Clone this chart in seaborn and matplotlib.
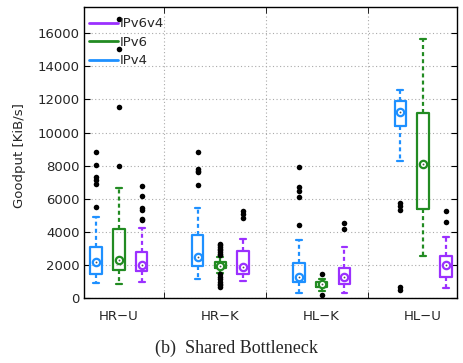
import numpy as np
import pandas as pd
import matplotlib
matplotlib.use("Agg")
import matplotlib.pyplot as plt
import seaborn as sns
from matplotlib.lines import Line2D

# ---------------- data ----------------
groups = ["HR\u2212U", "HR\u2212K", "HL\u2212K", "HL\u2212U"]
protocols = ["IPv4", "IPv6", "IPv6v4"]
colors = {"IPv4": "#1E90FF", "IPv6": "#228B22", "IPv6v4": "#9B30FF"}

# five-number summary per scenario: whisker low, Q1, median, Q3, whisker high
ipv4_box = [[940, 1465, 2210, 3075, 4890],
            [1165, 1970, 2490, 3800, 5470],
            [340, 1000, 1285, 2110, 3515],
            [8300, 10390, 11250, 11900, 12560]]
ipv6_box = [[845, 1730, 2310, 4180, 6670],
            [1550, 1810, 1965, 2210, 2500],
            [450, 700, 845, 1000, 1200],
            [2570, 5380, 8080, 11190, 15620]]
ipv6v4_box = [[965, 1670, 2010, 2810, 4220],
              [1060, 1465, 1870, 2870, 3580],
              [340, 900, 1300, 1850, 3075],
              [660, 1300, 2010, 2550, 3680]]

# outliers per scenario
ipv4_out = [[8840, 8040, 7330, 7130, 6930, 5490],
            [8820, 7820, 7680, 7620, 6810],
            [7900, 6690, 6490, 6130, 4440],
            [5765, 5570, 5320, 700, 500]]
ipv6_out = [[16840, 15010, 11550, 8000],
            [3300, 3200, 3100, 3000, 2900, 2800, 2700, 2600,
             1450, 1300, 1150, 1000, 900, 800, 700],
            [1465, 220],
            []]
ipv6v4_out = [[6790, 6190, 5430, 5320, 4800, 4720],
              [5260, 5120, 4880],
              [4520, 4160],
              [5245, 4600]]

# ---------------- tables ----------------
box_rows, med_rows, out_rows = [], [], []
for proto, boxes, outs in zip(protocols,
                              [ipv4_box, ipv6_box, ipv6v4_box],
                              [ipv4_out, ipv6_out, ipv6v4_out]):
    for g, vals, ovals in zip(groups, boxes, outs):
        for v in vals:
            box_rows.append((g, proto, v))
        med_rows.append((g, proto, vals[2]))
        for r, v in enumerate(ovals):
            out_rows.append((g, proto, v, r))
box_df = pd.DataFrame(box_rows, columns=["scenario", "protocol", "goodput"])
med_df = pd.DataFrame(med_rows, columns=["scenario", "protocol", "goodput"])
out_df = pd.DataFrame(out_rows, columns=["scenario", "protocol", "goodput", "rank"])

# ---------------- style ----------------
sns.set_style("white")
plt.rcParams["font.family"] = ["DejaVu Sans"]
plt.rcParams["font.size"] = 9.5

fig = plt.figure(figsize=(4.63, 3.63), dpi=100)
ax = fig.add_axes([0.1814, 0.1777, 0.8067, 0.8022])

common = dict(x="scenario", y="goodput", hue="protocol", order=groups,
              hue_order=protocols, ax=ax, legend=False)

sns.boxplot(data=box_df, palette=colors, fill=False, width=0.675, gap=0.5,
            whis=(0, 100), showfliers=False, linewidth=1.6,
            whiskerprops=dict(linestyle=(0, (1.8, 1.4))),
            medianprops=dict(visible=False), **common)

# outliers
black = {p: "black" for p in protocols}
for r in sorted(out_df["rank"].unique()):
    sns.pointplot(data=out_df[out_df["rank"] == r], palette=black, dodge=0.45,
                  markers="o", linestyles="none", errorbar=None,
                  markersize=4, markeredgewidth=0, zorder=5, **common)

# medians: ring + centre dot
sns.pointplot(data=med_df, palette=colors, dodge=0.45, markers="o",
              linestyles="none", errorbar=None, markersize=5.3,
              markerfacecolor="white", markeredgewidth=1.6, zorder=6, **common)
sns.pointplot(data=med_df, palette={p: "#555555" for p in protocols},
              dodge=0.45, markers="o", linestyles="none", errorbar=None,
              markersize=1.3, markeredgewidth=0, zorder=7, **common)

# ---------------- axes ----------------
ax.set_xlim(-0.345, 3.34)
ax.set_ylim(0, 17550)
ax.set_yticks(range(0, 16001, 2000))
ax.set_xticks(range(len(groups)))
ax.set_xticklabels(groups)
ax.set_xticks([0.445, 1.45, 2.46], minor=True)
ax.tick_params(axis="x", which="major", length=0, pad=8, labelsize=9.5)
ax.tick_params(axis="x", which="minor", direction="in", length=4,
               top=True, bottom=True, color="black")
ax.tick_params(axis="y", direction="in", length=4, left=True, right=True,
               pad=3, labelsize=9.5, color="black")
grid_kw = dict(color="#aaaaaa", linestyle=(0, (1, 2.2)), linewidth=0.8)
ax.yaxis.grid(True, which="major", **grid_kw)
ax.xaxis.grid(True, which="minor", **grid_kw)
ax.xaxis.grid(False, which="major")
ax.set_axisbelow(True)
for s in ax.spines.values():
    s.set_color("black")
    s.set_linewidth(1.0)
ax.set_xlabel("")
ax.set_ylabel("Goodput [KiB/s]", fontsize=9.5)
ax.yaxis.set_label_coords(-0.155, 0.49)

handles = [Line2D([], [], color=colors[p], lw=2) for p in protocols[::-1]]
ax.legend(handles, protocols[::-1], loc="upper left",
          bbox_to_anchor=(-0.013, 1.0), frameon=False, handlelength=2.2,
          handletextpad=0.15, labelspacing=0.42, borderpad=0.75,
          borderaxespad=0.0, fontsize=9.5)

fig.text(0.51, 0.041, "(b)  Shared Bottleneck", ha="center", va="center",
         family=["Liberation Serif", "DejaVu Serif"], fontsize=13)

fig.savefig("out.png", dpi=100)
